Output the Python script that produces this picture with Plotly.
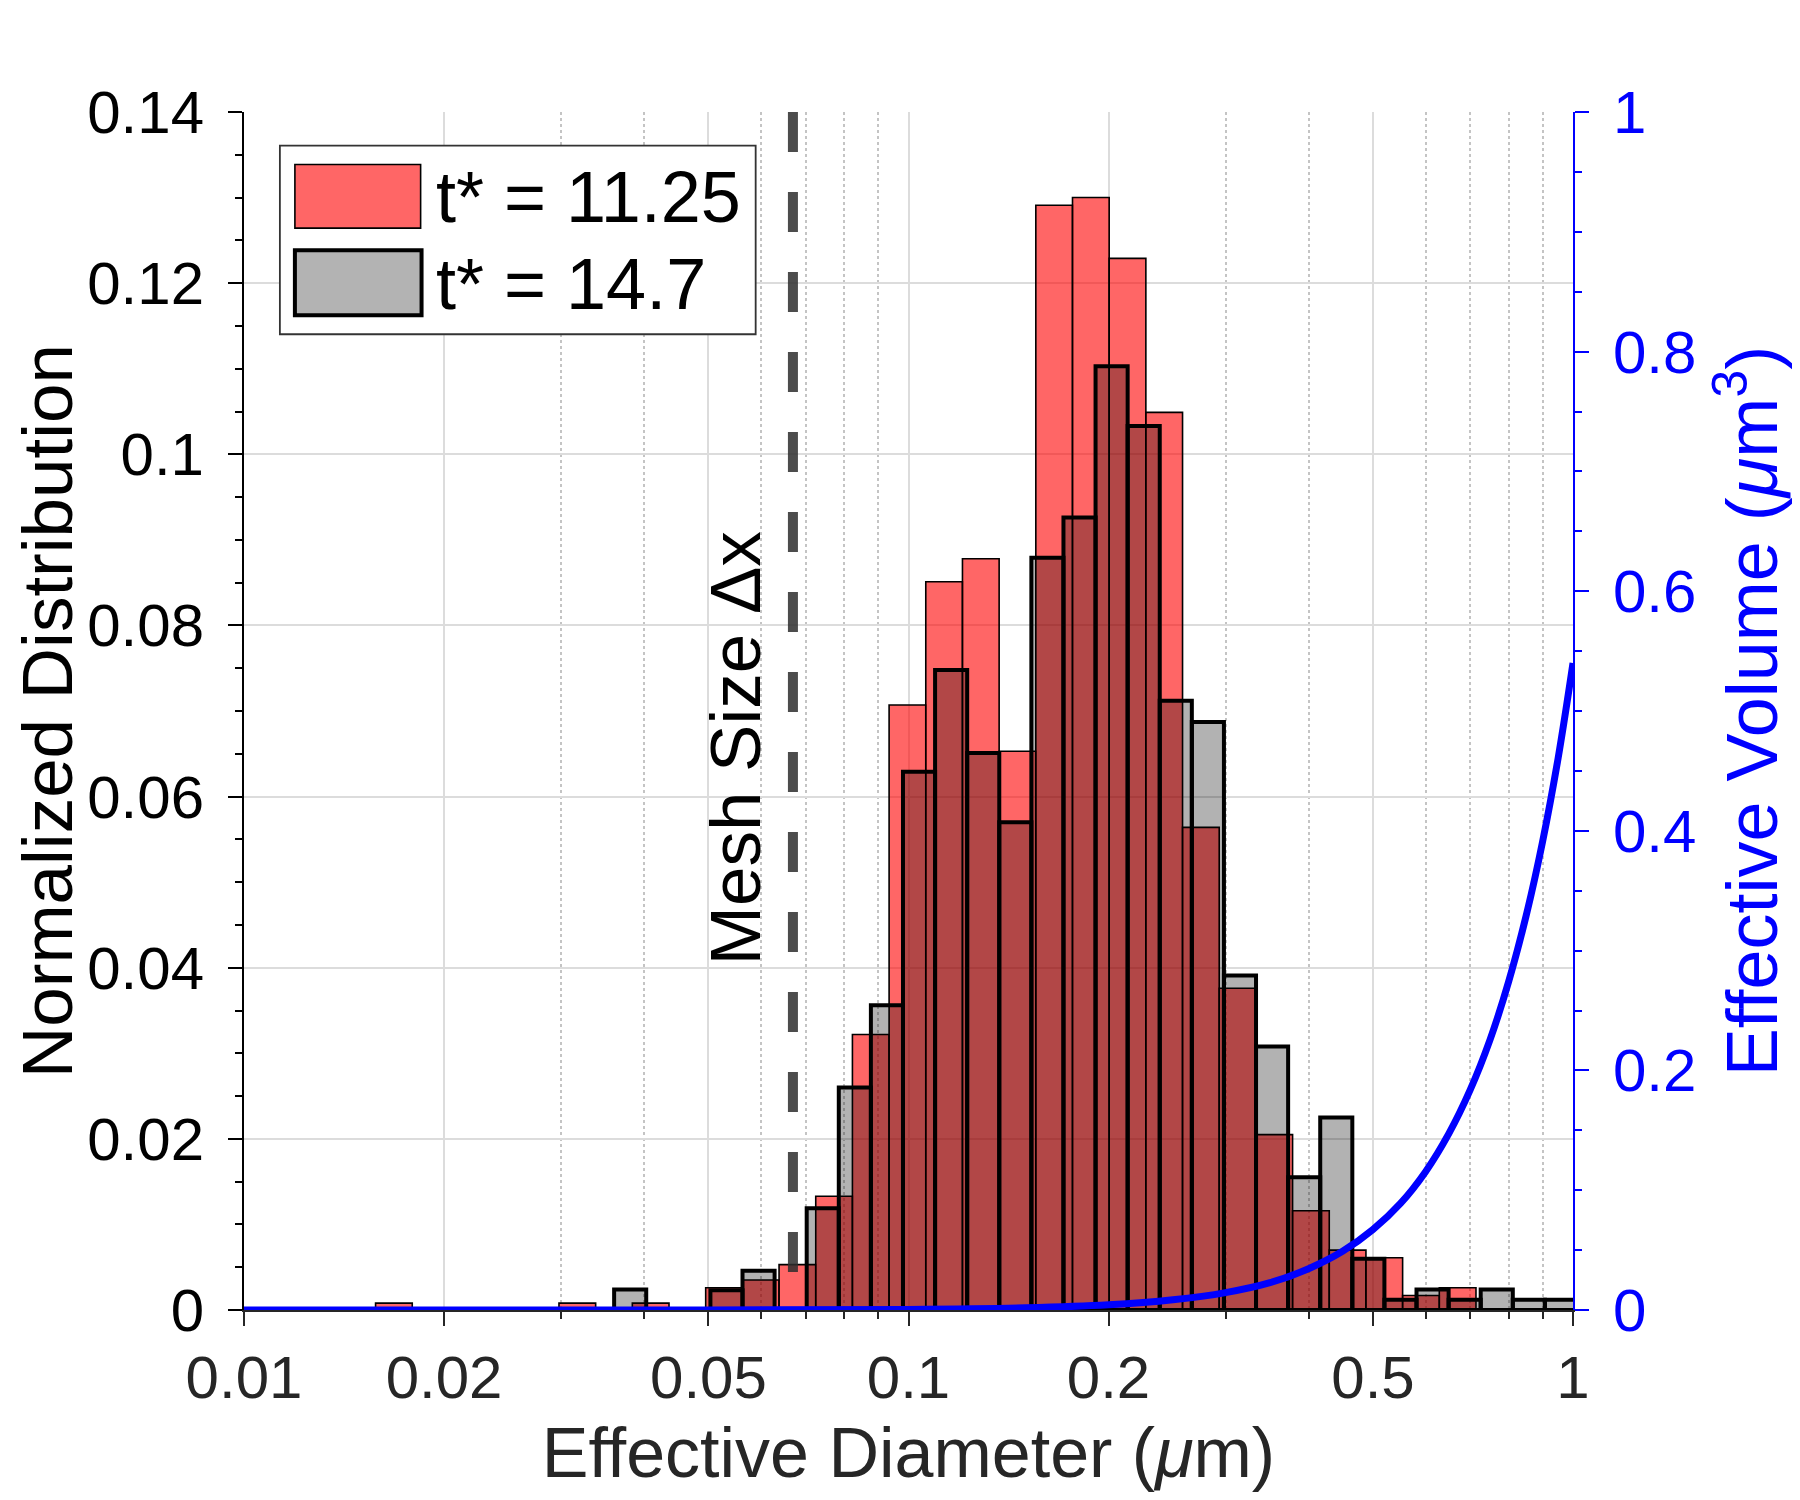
import numpy as np
import plotly.graph_objects as go

# histogram bins (log10 of first / last bin edge, 30 bins each)
red_log_edges = (-1.802, -0.146)
grey_log_edges = (-1.443, 0.006)
n_bins = 30

# normalized distribution, t* = 11.25
red_vals = [0.0008, 0, 0, 0, 0, 0.0008, 0, 0.0008, 0, 0.0026,
            0.0035, 0.0053, 0.0133, 0.0322, 0.0707, 0.0851, 0.0878, 0.0653, 0.1291, 0.1300,
            0.1229, 0.1049, 0.0564, 0.0376, 0.0205, 0.0116, 0.0070, 0.0061, 0.0017, 0.0026]

# normalized distribution, t* = 14.7
grey_vals = [0.0024, 0, 0, 0.0023, 0.0046, 0, 0.0119, 0.0260, 0.0356, 0.0629,
             0.0748, 0.0651, 0.0570, 0.0879, 0.0926, 0.1103, 0.1033, 0.0712, 0.0687, 0.0391,
             0.0308, 0.0155, 0.0225, 0.0060, 0.0012, 0.0024, 0.0012, 0.0024, 0.0012, 0.0012]

# effective volume curve (right axis)
vol_d = [0.01, 0.05, 0.1, 0.15, 0.2, 0.25, 0.3, 0.35, 0.4, 0.45, 0.5,
         0.55, 0.6, 0.65, 0.7, 0.75, 0.8, 0.85, 0.9, 0.95, 1.0]
vol_v = [0.0, 0.0001, 0.0005, 0.0018, 0.0043, 0.0085, 0.0145, 0.0228, 0.0345, 0.0490, 0.0672,
         0.0890, 0.1155, 0.1470, 0.1835, 0.2255, 0.2740, 0.3290, 0.3910, 0.4610, 0.5400]

mesh_dx = 0.067

x_ticks = [0.01, 0.02, 0.05, 0.1, 0.2, 0.5, 1]
x_ticktext = ['0.01', '0.02', '0.05', '0.1', '0.2', '0.5', '1']
x_minor = [0.03, 0.04, 0.06, 0.07, 0.08, 0.09, 0.3, 0.4, 0.6, 0.7, 0.8, 0.9]
y_ticks = [0, 0.02, 0.04, 0.06, 0.08, 0.1, 0.12, 0.14]
y_ticktext = ['0', '0.02', '0.04', '0.06', '0.08', '0.1', '0.12', '0.14']
y2_ticks = [0, 0.2, 0.4, 0.6, 0.8, 1]
y2_ticktext = ['0', '0.2', '0.4', '0.6', '0.8', '1']

FONT = 'Liberation Sans, Arial, sans-serif'
DARK = '#262626'


def bins(log_range, vals):
    edges = np.logspace(log_range[0], log_range[1], n_bins + 1)
    left = edges[:-1]
    width = np.diff(edges)
    y = [v if v > 0 else None for v in vals]
    return left, width, y


fig = go.Figure()

# red histogram (drawn first)
rx, rw, ry = bins(red_log_edges, red_vals)
fig.add_trace(go.Bar(
    x=rx, y=ry, width=rw, offset=0,
    marker=dict(color='rgba(255,0,0,0.6)', line=dict(color='black', width=1.6)),
    name='t* = 11.25', showlegend=False,
))

# grey histogram on top
gx, gw, gy = bins(grey_log_edges, grey_vals)
fig.add_trace(go.Bar(
    x=gx, y=gy, width=gw, offset=0,
    marker=dict(color='rgba(0,0,0,0.3)', line=dict(color='black', width=4)),
    name='t* = 14.7', showlegend=False,
))

# mesh size dashed line
fig.add_trace(go.Scatter(
    x=[mesh_dx, mesh_dx], y=[0.14, 0], mode='lines',
    line=dict(color='rgba(45,45,45,0.85)', width=10, dash='40px,40px'),
    showlegend=False, hoverinfo='skip',
))

# effective volume on right axis
fig.add_trace(go.Scatter(
    x=vol_d, y=vol_v, mode='lines', yaxis='y2',
    line=dict(color='#0000FF', width=7, shape='spline'),
    showlegend=False,
))

fig.add_annotation(
    x=np.log10(0.0549), y=0.0657, xref='x', yref='y',
    text='Mesh Size \u0394x', textangle=-90, showarrow=False,
    font=dict(family=FONT, size=71, color='black'),
)

# hand-made legend (large swatches like the original)
fig.add_shape(type='rect', xref='paper', yref='paper', x0=0.027, x1=0.385, y0=0.8145, y1=0.972,
              line=dict(color='#333333', width=1.8), fillcolor='white', layer='above')
fig.add_shape(type='rect', xref='paper', yref='paper', x0=0.0383, x1=0.1329, y0=0.9031, y1=0.9562,
              line=dict(color='black', width=1.6), fillcolor='#FF6666', layer='above')
fig.add_shape(type='rect', xref='paper', yref='paper', x0=0.0383, x1=0.1336, y0=0.8303, y1=0.8845,
              line=dict(color='black', width=4), fillcolor='#B3B3B3', layer='above')
fig.add_annotation(x=0.1426, y=0.9287, xref='paper', yref='paper', xanchor='left', yanchor='middle',
                   text='t* = 11.25', showarrow=False, font=dict(family=FONT, size=72, color='black'))
fig.add_annotation(x=0.1426, y=0.8562, xref='paper', yref='paper', xanchor='left', yanchor='middle',
                   text='t* = 14.7', showarrow=False, font=dict(family=FONT, size=72, color='black'))

fig.update_layout(
    width=1784, height=1484,
    margin=dict(l=233, r=219, t=104, b=173),
    paper_bgcolor='white', plot_bgcolor='white',
    barmode='overlay',
    font=dict(family=FONT, size=60, color='black'),
    xaxis=dict(
        type='log', range=[-2, 0],
        tickvals=x_ticks, ticktext=x_ticktext,
        tickfont=dict(size=60, color=DARK),
        ticks='outside', ticklen=14, tickwidth=2, tickcolor=DARK,
        showline=True, linecolor=DARK, linewidth=2,
        showgrid=True, gridcolor='#DCDCDC', gridwidth=2,
        minor=dict(tickvals=x_minor, ticks='outside', ticklen=7, tickwidth=2, tickcolor=DARK,
                   showgrid=True, gridcolor='#C4C4C4', gridwidth=2, griddash='dot'),
        zeroline=False,
        title=dict(text='Effective Diameter (<i>\u03bc</i>m)', font=dict(size=70, color=DARK), standoff=20),
        ticklabelstandoff=0,
    ),
    yaxis=dict(
        range=[0, 0.14],
        tickvals=y_ticks, ticktext=y_ticktext,
        tickfont=dict(size=60, color='black'),
        ticks='outside', ticklen=14, tickwidth=2, tickcolor='black',
        showline=True, linecolor='black', linewidth=2,
        showgrid=True, gridcolor='#DCDCDC', gridwidth=2,
        minor=dict(dtick=0.005, ticks='outside', ticklen=7, tickwidth=2, tickcolor='black', showgrid=False),
        zeroline=False,
        title=dict(text='Normalized Distribution', font=dict(size=71, color='black'), standoff=18),
        ticklabelstandoff=12,
    ),
    yaxis2=dict(
        overlaying='y', side='right', range=[0, 1],
        tickvals=y2_ticks, ticktext=y2_ticktext,
        tickfont=dict(size=60, color='#0000FF'),
        ticks='outside', ticklen=14, tickwidth=2, tickcolor='#0000FF',
        showline=True, linecolor='#0000FF', linewidth=2,
        showgrid=False, zeroline=False,
        minor=dict(dtick=0.05, ticks='outside', ticklen=7, tickwidth=2, tickcolor='#0000FF'),
        title=dict(text='Effective Volume (<i>\u03bc</i>m<sup>3</sup>)', font=dict(size=72, color='#0000FF'),
                   standoff=32),
        ticklabelstandoff=12,
    ),
)

fig.write_html('out.html')
